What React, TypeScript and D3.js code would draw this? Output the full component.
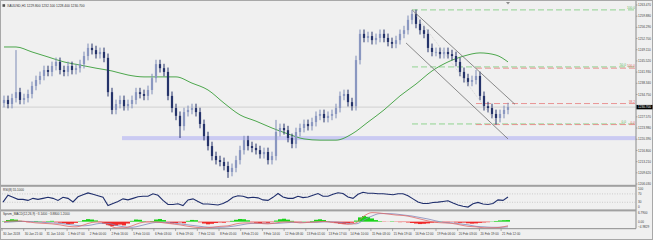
import React from 'react';
import * as d3 from 'd3';

const W = 653;
const H = 240;

// ---- price data (hourly-ish bars, closes) ----
const closes = [1233.0,1231.7,1233.6,1235.5,1233.0,1233.6,1234.9,1237.5,1239.4,1240.7,
1242.6,1242.0,1243.9,1245.2,1242.6,1242.0,1243.9,1242.6,1243.2,1244.5,
1247.1,1249.7,1249.0,1247.7,1248.4,1246.5,1235.5,1229.8,1231.7,1233.0,
1231.0,1231.7,1233.0,1235.5,1234.9,1234.3,1236.2,1240.0,1244.5,1243.2,
1242.0,1234.3,1230.4,1227.9,1224.6,1229.1,1229.8,1230.4,1229.1,1225.3,
1221.4,1218.2,1215.0,1213.7,1213.1,1211.8,1209.9,1211.2,1213.7,1216.9,
1220.1,1218.2,1217.6,1216.9,1215.6,1216.3,1213.7,1215.0,1222.7,1224.0,
1223.3,1220.8,1218.9,1222.7,1224.0,1225.3,1224.6,1225.9,1227.9,1228.5,
1227.2,1227.9,1228.5,1230.4,1234.3,1234.9,1232.3,1231.0,1245.8,1254.2,
1252.9,1253.5,1252.2,1252.9,1254.2,1252.9,1251.6,1251.0,1252.2,1254.2,
1255.4,1258.7,1260.6,1257.4,1255.4,1254.2,1249.7,1248.4,1248.4,1247.7,
1248.4,1247.7,1247.1,1245.2,1242.0,1240.0,1238.8,1239.4,1240.7,1234.3,
1231.0,1230.4,1228.5,1227.2,1228.5,1229.8,1230.7];
const firstOpen = 1232.0;
const wick = 1.4;
const highIdx = [3, 68, 102, 118];
const highVal = [1249.0, 1226.6, 1261.9, 1242.6];
const lowIdx = [44, 56, 123];
const lowVal = [1220.8, 1208.0, 1225.1];

// ---- moving average (green) ----
const maIdx = [0,3,7,11,15,19,23,27,31,35,39,43,47,51,55,59,63,67,71,75,79,83,87,91,95,99,103,107,111,115,119,123,126];
const maVal = [1250.0,1250.0,1248.4,1246.8,1245.2,1244.2,1243.2,1242.3,1241.0,1240.4,1240.4,1240.4,1238.4,1236.2,1232.0,1228.2,1226.2,1224.0,1222.1,1220.5,1220.1,1220.1,1222.1,1225.9,1229.8,1234.3,1238.1,1242.3,1245.2,1247.1,1248.1,1247.4,1245.2];

// ---- price axis labels ----
const priceTicks = [1263.47,1259.88,1256.29,1252.70,1249.11,1245.52,1241.93,1238.34,1234.75,1231.16,1227.57,1223.98,1220.39,1216.80,1213.21,1209.62,1206.03];

// ---- support band / fibs / channel ----
const bandLow = 1220.1;
const bandHigh = 1221.4;
const bandStartIdx = 29.5;
const fibGreenStart = 102;
const fibGreenPrices = [1261.9, 1243.6, 1225.3];
const fibGreenLabels = ['100.0', '50.0', '0.0'];
const fibRedStart = 118;
const fibRedPrices = [1243.2, 1231.85, 1225.1];
const fibRedLabels = ['100.0', '38.2', '0.0'];
const channelUpper = [[102, 1261.9], [127.75, 1231.6]];
const channelLower = [[100.5, 1251.3], [126, 1220.5]];
const channelMid = [[102, 1261.9], [123, 1225.9]];

// ---- RSI (sampled every 1.25 bars) ----
const rsiVals = [30.7,63.4,53.7,43.9,43.9,39.0,48.8,43.9,48.8,53.7,
48.8,39.0,53.7,48.8,31.7,56.1,65.9,74.6,68.3,61.0,
53.7,14.6,24.4,34.1,46.3,41.5,48.8,56.1,58.5,58.5,
70.7,63.4,39.0,19.5,19.5,22.9,14.6,41.5,46.3,34.1,
22.0,22.0,19.5,17.1,24.4,36.6,53.7,61.0,58.5,51.2,
53.7,51.2,41.5,39.0,53.7,71.7,55.1,48.8,48.8,58.5,
52.2,55.1,63.4,71.7,58.5,58.5,68.3,75.6,71.7,55.1,
48.8,68.3,78.0,73.2,73.2,70.7,70.7,68.3,65.9,70.7,
70.7,61.0,46.3,31.7,24.4,24.4,29.3,30.7,34.1,37.6,
26.8,17.1,11.2,7.3,22.9,29.3,22.0,19.5,24.4,41.5,
39.0,55.1];
const rsiLevels = [100, 70, 30, 0];

// ---- MACD (lines every 2 bars, histogram per bar) ----
const macdVals = [-0.20,0.54,0.54,-0.20,-0.93,-1.30,-1.67,-2.41,-3.51,-3.88,
-2.41,-0.57,-0.20,-2.41,-4.61,-4.61,-3.14,-0.93,-0.20,-0.20,
-0.93,-1.67,-2.41,-3.51,-4.24,-4.61,-4.24,-3.51,-3.14,-1.67,
-0.93,-0.93,-1.30,-1.67,-0.93,-0.20,-0.20,-0.93,-0.57,-0.20,
0.17,-0.57,-1.30,-2.04,-0.93,4.22,6.79,6.42,5.69,4.95,
4.58,3.48,2.01,0.54,-0.57,-0.93,-1.30,-2.41,-3.51,-3.88,
-4.61,-4.61,-4.24,-3.14];
const signalVals = [-0.57,-0.20,0.17,0.17,-0.20,-0.57,-0.93,-1.30,-2.04,-2.77,
-3.14,-2.41,-1.30,-1.30,-2.77,-3.88,-4.24,-3.14,-1.67,-0.57,
-0.57,-0.93,-1.67,-2.41,-3.14,-3.88,-4.24,-4.24,-3.88,-3.14,
-2.04,-1.30,-1.30,-1.30,-1.30,-0.93,-0.57,-0.57,-0.57,-0.57,
-0.20,-0.20,-0.57,-1.30,-1.67,1.27,4.22,6.05,6.05,5.69,
4.95,4.22,3.11,2.01,0.54,-0.57,-0.93,-1.67,-2.41,-3.51,
-3.88,-4.24,-4.24,-3.88];
const histVals = [0.3,1.2,1.8,1.5,0.6,-0.2,-0.4,0.2,0.5,0.3,
-0.3,0.4,0.6,-0.5,-0.8,-1.2,-1.8,-1.6,-0.9,0.3,
1.2,1.9,1.6,0.9,-0.4,-1.5,-2.6,-3.4,-3.0,-2.2,
-2.8,-1.4,0.6,1.6,1.4,0.4,-0.3,0.5,1.6,2.0,
1.2,-0.6,-1.3,-1.0,-0.6,-1.2,0.6,1.3,1.1,-0.5,
-1.4,-2.0,-1.6,-1.0,-0.6,-0.8,-0.3,0.6,1.4,2.0,
1.8,1.0,-0.3,-0.8,-1.0,-0.6,-0.9,-0.4,0.8,1.8,
2.2,1.5,0.6,-0.4,-0.3,0.2,-0.2,0.5,1.4,1.8,
1.2,0.4,-0.4,-1.0,-1.5,-1.7,-1.2,-0.8,0.8,3.2,
4.2,3.6,2.4,1.2,0.4,-0.2,-0.1,0.3,-0.2,-0.4,
-0.3,-0.6,-1.0,-1.4,-1.8,-1.6,-1.3,-0.8,-0.5,0.2,
-0.3,-0.5,-0.2,-0.6,-0.9,-0.7,-1.2,-1.5,-1.3,-0.9,
-0.6,-0.4,0.2,0.5,0.9,1.1,1.2];
const macdMax = 6.79;
const macdMin = -4.9829;

// ---- time axis ----
const timeLabels = ['30 Jan 2018','30 Jan 21:00','31 Jan 14:00','1 Feb 07:00','2 Feb 00:00','2 Feb 16:00','5 Feb 10:00','6 Feb 03:00','6 Feb 19:00','7 Feb 12:00','8 Feb 05:00','8 Feb 21:00','9 Feb 14:00','12 Feb 08:00','13 Feb 01:00','13 Feb 17:00','14 Feb 10:00','15 Feb 03:00','15 Feb 19:00','16 Feb 12:00','19 Feb 06:00','20 Feb 03:00','20 Feb 19:00','21 Feb 12:00'];
const timeStep = 5.425;

const FONT = 'Liberation Sans, Arial, sans-serif';
const AX = 636;

export default function App() {
  React.useEffect(() => { document.body.style.margin = '0'; }, []);

  const x = d3.scaleLinear().domain([-0.5, 158]).range([2, AX]);
  const y = d3.scaleLinear().domain([1206.03, 1263.47]).range([184, 5]);
  const yR = d3.scaleLinear().domain([0, 100]).range([208.6, 187.6]);
  const yM = d3.scaleLinear().domain([macdMin, macdMax]).range([228.3, 212.6]);
  const f3 = d3.format('.3f');
  const f4 = d3.format('.4f');

  const bars = closes.map((c, i) => {
    const o = i === 0 ? firstOpen : closes[i - 1];
    const hk = highIdx.indexOf(i);
    const lk = lowIdx.indexOf(i);
    const hi = hk >= 0 ? highVal[hk] : Math.max(o, c) + wick;
    const lo = lk >= 0 ? lowVal[lk] : Math.min(o, c) - wick;
    return { i, o, c, hi, lo, up: c >= o };
  });
  const last = bars[bars.length - 1];

  const maLine = d3.line<number>().x((_, k) => x(maIdx[k])).y((v) => y(v)).curve(d3.curveMonotoneX);
  const rsiLine = d3.line<number>().x((_, k) => x(k * 1.25 - 0.25)).y((v) => yR(v));
  const mLine = d3.line<number>().x((_, k) => x(k * 2)).y((v) => yM(v)).curve(d3.curveMonotoneX);

  const curY = y(last.c);

  // green fib labels that would collide with a red one shift to the left
  const greenLabelX = fibGreenPrices.map((p) =>
    fibRedPrices.some((r) => Math.abs(y(r) - y(p)) < 4) ? AX - 10 : AX - 1);

  return (
    <div style={{ position: 'absolute', left: 0, top: 0 }}>
      <svg width={W} height={H} style={{ display: 'block' }} fontFamily={FONT}>
        <defs>
          <clipPath id="mainClip"><rect x={2} y={2} width={AX - 2} height={182} /></clipPath>
          <clipPath id="rsiClip"><rect x={2} y={187} width={AX - 2} height={22.5} /></clipPath>
          <clipPath id="macdClip"><rect x={2} y={211.5} width={AX - 2} height={17} /></clipPath>
        </defs>
        <rect x={0} y={0} width={W} height={H} fill="#f0f0f0" />
        <rect x={0.5} y={0.5} width={W - 1} height={H - 1} fill="none" stroke="#a8a8a8" />

        {/* main panel */}
        <g clipPath="url(#mainClip)">
          <rect x={x(bandStartIdx)} y={y(bandHigh)} width={AX - x(bandStartIdx)} height={y(bandLow) - y(bandHigh)} fill="#cacaf2" />
          <line x1={2} x2={AX} y1={curY} y2={curY} stroke="#c9c9c9" strokeWidth={0.8} />
          {fibGreenPrices.map((p, k) => (
            <line key={'fg' + k} x1={x(fibGreenStart)} x2={AX} y1={y(p)} y2={y(p)} stroke="#86cf86" strokeWidth={0.9} strokeDasharray="6,3" />
          ))}
          {fibRedPrices.map((p, k) => (
            <line key={'fr' + k} x1={x(fibRedStart)} x2={AX} y1={y(p)} y2={y(p)} stroke="#e88a8a" strokeWidth={0.9} strokeDasharray="6,3" />
          ))}
          <path d={maLine(maVal) || ''} fill="none" stroke="#3a9e3a" strokeWidth={0.9} />
          {bars.map((b) => (
            <g key={'b' + b.i}>
              <line x1={x(b.i)} x2={x(b.i)} y1={y(b.hi)} y2={y(b.lo)} stroke={b.up ? '#7d8bb6' : '#25336a'} strokeWidth={1} />
              <rect x={x(b.i) - 1.1} width={2.2} y={y(Math.max(b.o, b.c))} height={Math.max(0.8, Math.abs(y(b.o) - y(b.c)))} fill={b.up ? '#8a97c0' : '#25336a'} />
            </g>
          ))}
          {[channelUpper, channelLower].map((seg, k) => (
            <line key={'ch' + k} x1={x(seg[0][0])} y1={y(seg[0][1])} x2={x(seg[1][0])} y2={y(seg[1][1])} stroke="#6e6e6e" strokeWidth={0.8} />
          ))}
          <line x1={x(channelMid[0][0])} y1={y(channelMid[0][1])} x2={x(channelMid[1][0])} y2={y(channelMid[1][1])} stroke="#bdbdbd" strokeWidth={0.6} strokeDasharray="1,1" />
          {fibGreenPrices.map((p, k) => (
            <text key={'fgl' + k} x={greenLabelX[k]} y={y(p) - 0.8} textAnchor="end" fontSize={3.2} fill="#5fb65f">{fibGreenLabels[k]}</text>
          ))}
          {fibRedPrices.map((p, k) => (
            <text key={'frl' + k} x={AX - 1} y={y(p) - 0.8} textAnchor="end" fontSize={3.2} fill="#e06060">{fibRedLabels[k]}</text>
          ))}
        </g>
        <text x={7} y={7} fontSize={3.3} fill="#303030">{`XAUUSD,H1  ${f3(last.o)} ${f3(last.hi)} ${f3(last.lo)} ${f3(last.c)}`}</text>
        <rect x={2.5} y={4.2} width={2.6} height={2.6} fill="#505050" />
        <path d={`M${x(126) - 2},2 L${x(126) + 2},2 L${x(126)},4.5 Z`} fill="#8a8a8a" />

        {/* price axis */}
        <line x1={AX} x2={AX} y1={1} y2={228.5} stroke="#8a8a8a" strokeWidth={1} />
        {priceTicks.map((p) => (
          Math.abs(y(p) - curY) < 4 ? null : (
            <g key={'pt' + p}>
              <line x1={AX} x2={AX + 1.5} y1={y(p)} y2={y(p)} stroke="#808080" strokeWidth={0.6} />
              <text x={AX + 2} y={y(p) + 1.1} fontSize={3.1} fill="#404040">{f3(p)}</text>
            </g>
          )
        ))}
        <rect x={AX + 0.5} y={curY - 2.2} width={16} height={4.4} fill="#000" />
        <text x={AX + 2} y={curY + 1.1} fontSize={3.1} fill="#fff">{f3(last.c)}</text>

        {/* panel separators */}
        <rect x={1} y={184.8} width={AX - 1} height={2} fill="#a0a0a0" />
        <rect x={1} y={209.4} width={AX - 1} height={2} fill="#a0a0a0" />
        <line x1={1} x2={AX} y1={228.7} y2={228.7} stroke="#8a8a8a" strokeWidth={1} />

        {/* RSI */}
        {rsiLevels.filter((v) => v > 0 && v < 100).map((v) => (
          <line key={'rl' + v} x1={2} x2={AX} y1={yR(v)} y2={yR(v)} stroke="#b5b5b5" strokeWidth={0.6} strokeDasharray="1,1.5" />
        ))}
        <g clipPath="url(#rsiClip)">
          <path d={rsiLine(rsiVals) || ''} fill="none" stroke="#1f2e6c" strokeWidth={1.1} />
        </g>
        <text x={3} y={190.8} fontSize={3.1} fill="#303030">{`RSI(8) ${f4(rsiVals[rsiVals.length - 1])}`}</text>
        {rsiLevels.map((v) => (
          <text key={'rt' + v} x={AX + 2} y={Math.min(Math.max(yR(v) + 1.1, 189.5), 208)} fontSize={3.1} fill="#404040">{v}</text>
        ))}

        {/* MACD */}
        <g clipPath="url(#macdClip)">
          {histVals.map((v, i) => (
            <rect key={'h' + i} x={x(i) - 2} width={4} y={v >= 0 ? yM(v) : yM(0)} height={Math.abs(yM(v) - yM(0))} fill={v >= 0 ? '#19d419' : '#f02a2a'} />
          ))}
          <path d={mLine(signalVals) || ''} fill="none" stroke="#8189bb" strokeWidth={0.8} />
          <path d={mLine(macdVals) || ''} fill="none" stroke="#e06a6a" strokeWidth={0.8} />
        </g>
        <text x={3} y={215.2} fontSize={3.1} fill="#303030">{`Sprvm_MACD(12,26,9) ${f4(macdVals[macdVals.length - 1])} ${f4(signalVals[signalVals.length - 1])} ${f4(histVals[histVals.length - 1])}`}</text>
        <text x={AX + 2} y={214.2} fontSize={3.1} fill="#404040">{f4(macdMax)}</text>
        <text x={AX + 2} y={yM(0) + 1.1} fontSize={3.1} fill="#404040">0.00</text>
        <text x={AX + 2} y={228.4} fontSize={3.1} fill="#404040">{f4(macdMin)}</text>

        {/* time axis */}
        {timeLabels.map((t, k) => {
          const tx = x(k * timeStep - 0.5);
          return (
            <g key={'t' + k}>
              <line x1={tx} x2={tx} y1={228.7} y2={231} stroke="#808080" strokeWidth={0.6} />
              <text x={tx + 1} y={234.8} fontSize={3.1} fill="#404040">{t}</text>
            </g>
          );
        })}
      </svg>
    </div>
  );
}
